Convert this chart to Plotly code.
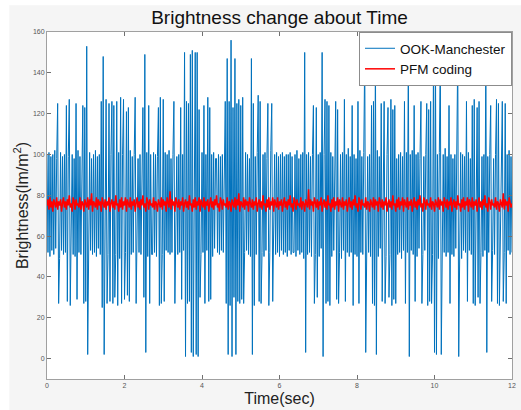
import plotly.graph_objects as go

sample_period = 0.025  # seconds between samples

# OOK-Manchester base levels (~1 sample per pixel)
ook_base = [
    100,52,101,50,99,53,100,51,102,54,98,52,100,49,101,53,99,51,100,52,
    103,50,99,52,101,53,100,51,98,50,100,54,102,52,99,51,101,49,100,53,
    99,52,100,50,101,53,98,51,100,52,102,50,99,54,100,51,101,52,99,50,
    100,53,101,51,99,52,100,50,102,53,98,51,100,52,101,49,99,53,100,51,
    101,52,99,50,100,53,102,51,99,52,100,50,101,54,98,52,100,51,99,53,
    100,100,52,101,50,99,53,100,51,51,101,52,100,50,99,53,101,52,100,51,
    99,50,101,53,100,52,102,51,98,52,100,49,101,53,99,51,100,52,101,50,
    100,53,99,51,101,52,100,50,102,53,99,51,100,52,101,50,99,53,100,51,
    101,52,99,50,100,53,102,51,99,52,100,50,101,54,98,98,52,100,51,99,
    53,100,52,101,50,99,53,100,51,102,54,98,52,100,49,101,53,99,51,100,
    52,103,50,99,52,101,53,100,51,98,50,100,54,102,52,99,51,101,49,100,
    53,99,52,100,50,101,53,98,51,100,52,102,50,99,54,100,51,101,52,99,
    50,100,53,101,51,99,52,100,50,100,53,101,51,99,52,52,100,50,102,53,
    98,51,100,52,101,49,99,53,100,51,101,52,99,50,100,53,102,51,99,52,
    100,50,101,54,98,52,100,51,99,53,100,100,52,101,50,99,53,100,51,102,
    54,98,52,100,49,101,53,99,51,100,52,103,50,99,52,101,53,100,51,98,
    50,100,54,102,52,99,51,101,49,100,53,99,52,100,50,101,53,98,51,100,
    52,102,50,99,54,100,51,101,52,99,50,100,53,101,51,99,52,100,50,102,
    53,98,51,100,52,101,49,99,53,100,51,101,52,99,50,100,53,102,51,99,
    52,100,50,101,54,98,52,100,51,99,53,100,52,101,50,99,53,100,51,102,
    54,98,52,100,49,101,53,99,51,100,52,103,50,99,52,101,53,100,51,98,
    50,100,54,102,52,99,51,101,49,100,53,99,52,100,50,101,53,98,51,100,
    52,102,50,99,54,100,51,101,52,99,50,100,53,101,51,99,52,100,50,102,
    53,98,51,100,52,101,49,99,53,100,51,101,52,99,50,100,53,102,51,99,
    52,
]

# Spikes: sample index, upward peak, following downward dip
spike_index = [
    11,20,23,30,37,39,41,56,58,61,
    64,67,69,72,76,79,82,84,91,99,
    101,105,115,117,120,131,138,142,144,146,
    148,150,153,155,157,162,166,168,184,186,
    188,190,192,194,196,198,200,202,211,213,
    218,220,228,232,266,275,278,284,287,289,
    291,298,300,307,315,321,328,335,337,339,
    345,348,352,355,357,359,369,373,379,386,
    392,394,396,399,401,406,415,424,433,439,
    441,444,446,453,458,464,466,470,473,
]
spike_high = [
    125,124,127,125,124,123,153,126,148,127,
    125,126,124,126,128,127,121,123,128,123,
    149,124,123,128,127,126,123,150,126,125,
    149,151,150,150,122,124,128,123,126,147,
    126,156,123,147,125,127,124,128,147,125,
    129,126,125,125,150,124,123,150,127,126,
    124,126,122,127,124,126,150,124,126,150,
    125,126,123,127,122,124,126,150,124,126,
    125,122,126,150,149,150,124,150,126,124,
    127,123,126,150,124,127,125,126,125,
]
spike_low = [
    27,28,26,29,27,28,2,25,2,27,
    28,27,30,26,27,29,31,28,27,30,
    3,27,26,27,28,27,29,1,27,28,
    3,1,2,1,30,27,28,29,27,2,
    26,1,30,2,28,27,29,27,2,26,
    28,27,26,28,3,27,30,1,27,28,
    26,29,27,28,26,27,3,27,26,2,
    28,27,30,26,29,27,27,1,28,27,
    26,28,27,3,2,2,27,1,28,27,
    26,30,27,3,28,27,26,28,27,
]

# PFM coding brightness
pfm = [
    75,78,73,79,74,77,72,78,76,74,79,73,77,75,78,72,76,79,74,77,
    73,78,75,80,74,76,72,79,77,73,78,75,76,74,79,73,77,76,72,78,
    76,74,79,73,78,75,81,72,77,76,74,79,73,78,75,77,72,79,76,74,
    78,73,77,75,79,72,76,78,74,77,73,80,75,76,72,78,74,79,73,77,
    75,79,72,78,76,74,79,73,77,75,78,72,76,79,74,77,73,78,75,80,
    74,76,72,79,77,73,78,75,76,74,79,73,77,76,72,78,76,74,79,73,
    78,75,77,72,79,76,74,82,73,78,75,77,72,79,76,74,78,73,77,75,
    79,72,76,78,74,77,73,80,75,76,72,78,74,79,73,77,75,79,72,78,
    76,74,79,73,77,75,78,72,76,79,74,77,73,78,75,80,74,76,72,79,
    77,73,78,75,76,74,79,73,77,76,72,78,76,74,79,73,78,75,81,72,
    77,76,74,79,73,78,75,77,72,79,76,74,78,73,77,75,79,72,76,78,
    74,77,73,80,75,76,72,78,74,79,73,77,75,79,72,78,76,74,79,73,
    77,75,78,72,76,79,74,77,73,78,75,80,74,76,72,79,77,73,78,75,
    76,74,79,73,77,76,72,78,76,74,83,73,78,75,77,72,79,76,74,78,
    73,77,75,79,72,76,78,74,77,73,80,75,76,72,78,74,79,73,77,75,
    79,72,78,76,74,79,73,77,75,78,72,76,79,74,77,73,78,75,80,74,
    76,72,79,77,73,78,75,76,74,79,73,77,76,72,78,76,74,79,73,78,
    75,77,72,79,76,74,78,73,77,75,79,72,76,78,74,77,73,80,75,76,
    72,78,74,79,73,77,75,79,72,78,76,74,79,73,77,75,78,72,76,79,
    74,77,73,78,75,80,74,76,72,79,77,73,78,75,76,74,79,73,77,76,
    72,78,76,74,79,73,78,75,77,72,79,76,74,78,73,77,75,79,72,76,
    78,74,77,73,80,75,76,72,78,74,79,73,77,75,79,72,78,76,74,79,
    73,77,75,78,72,76,79,74,77,73,78,75,80,74,76,72,79,77,73,78,
    75,76,74,79,73,77,76,72,78,76,74,81,73,78,75,77,72,79,76,74,
    76,
]

x_ticks = [0, 2, 4, 6, 8, 10, 12]
y_ticks = [0, 20, 40, 60, 80, 100, 120, 140, 160]

ook = list(ook_base)
for k, hi, lo in zip(spike_index, spike_high, spike_low):
    if k + 1 < len(ook):
        ook[k] = hi
        ook[k + 1] = lo
t_ook = [i * sample_period for i in range(len(ook))]
t_pfm = [i * sample_period for i in range(len(pfm))]

FONT = "Liberation Sans, Arial, Helvetica, sans-serif"

fig = go.Figure()
fig.add_trace(go.Scatter(x=t_ook, y=ook, mode="lines", name="OOK-Manchester",
                         line=dict(color="rgb(0,114,189)", width=1)))
fig.add_trace(go.Scatter(x=t_pfm, y=pfm, mode="lines", name="PFM coding",
                         line=dict(color="rgb(255,0,0)", width=1.5)))

axis_common = dict(
    showgrid=False, zeroline=False, showline=True, linecolor="#a0a0a0",
    linewidth=1, mirror="ticks", ticks="inside", ticklen=4, tickcolor="#707070",
    tickfont=dict(size=7, color="#555555", family=FONT),
)

fig.update_layout(
    width=521, height=410,
    margin=dict(l=47, r=5, t=32, b=28),
    paper_bgcolor="#f5f5f5", plot_bgcolor="white",
    font=dict(family=FONT, color="#222222"),
    title=dict(text="Brightness change about Time", x=0.5, xref="paper",
               xanchor="center", y=1 - 17 / 410, yref="container",
               yanchor="middle", font=dict(size=19, color="#111111", family=FONT)),
    xaxis=dict(range=[0, 12], tickvals=x_ticks, **axis_common,
               title=dict(text="Time(sec)", font=dict(size=16, family=FONT),
                          standoff=4)),
    yaxis=dict(range=[-10, 160], tickvals=y_ticks, **axis_common,
               title=dict(text="Brightness(lm/m<sup>2</sup>)",
                          font=dict(size=16, family=FONT), standoff=0)),
    legend=dict(x=1, y=1, xanchor="right", yanchor="top", bgcolor="white",
                bordercolor="#8c8c8c", borderwidth=1,
                font=dict(size=13.5, color="#111111", family=FONT),
                tracegroupgap=0, itemwidth=30),
    showlegend=True,
    shapes=[
        dict(type="rect", xref="paper", yref="paper", x0=-0.11, x1=1.02,
             y0=(382 - 5) / 350, y1=1.1, fillcolor="white", line=dict(width=0),
             layer="below"),
        dict(type="rect", xref="paper", yref="paper", x0=-0.11, x1=(9 - 47) / 469,
             y0=-0.1, y1=1.1, fillcolor="white", line=dict(width=0),
             layer="below"),
    ],
)

fig.write_html("out.html", config={"displayModeBar": False},
               post_script="document.body.style.margin='0';document.body.style.overflow='hidden';")
